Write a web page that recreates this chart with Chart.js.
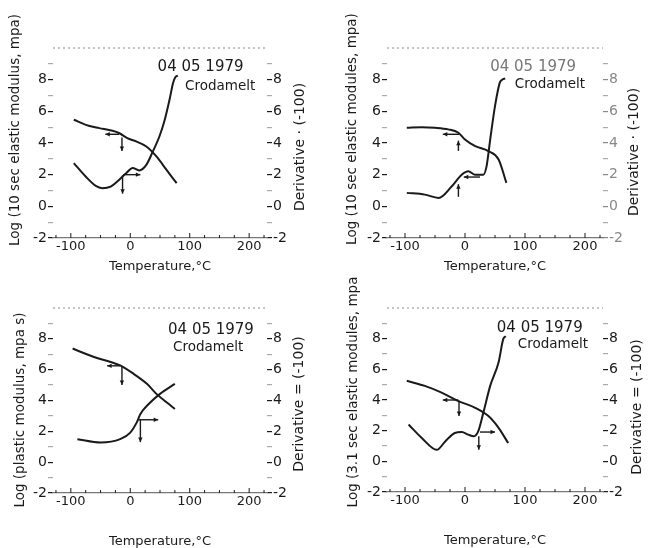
<!DOCTYPE html>
<html>
<head>
<meta charset="utf-8">
<script src="https://cdn.jsdelivr.net/npm/chart.js@4.4.1/dist/chart.umd.min.js"></script>
<style>
  body { margin: 0; background: #fff; width: 655px; height: 548px; position: relative; overflow: hidden; }
  canvas { position: absolute; }
</style>
</head>
<body>
<canvas id="c1" width="327" height="280" style="left:0;top:0"></canvas>
<canvas id="c2" width="328" height="280" style="left:327px;top:0"></canvas>
<canvas id="c3" width="327" height="276" style="left:0;top:272px"></canvas>
<canvas id="c4" width="328" height="276" style="left:327px;top:272px"></canvas>
<script>
// axis ticks
const tempTicks = [-100, 0, 100, 200];
const logTicks = [-2, 0, 2, 4, 6, 8];
const logMinor = [-1, 1, 3, 5, 7, 9];

// panel 1 - 10 sec elastic modulus
const p1ModT = [-95, -70, -52, -30, -19, -5, 10, 27, 44, 61, 78];
const p1ModV = [5.47, 5.09, 4.94, 4.77, 4.63, 4.31, 4.1, 3.78, 3.15, 2.3, 1.46];
const p1DerT = [-95, -75, -58, -47, -33, -19, -7, 4, 15, 27, 38, 49, 58, 66, 72, 76, 80];
const p1DerV = [2.73, 1.88, 1.29, 1.15, 1.25, 1.67, 2.09, 2.42, 2.27, 2.62, 3.47, 4.41, 5.47, 6.73, 7.79, 8.17, 8.25];

// panel 2 - 10 sec elastic modules
const p2ModT = [-97, -72, -50, -28, -11, 0, 17, 39, 56, 69];
const p2ModV = [4.96, 5.0, 4.96, 4.86, 4.65, 4.22, 3.8, 3.49, 2.96, 1.48];
const p2DerT = [-97, -67, -44, -22, -5.5, 5.5, 17, 30.5, 36, 42, 50, 58, 62, 67];
const p2DerV = [0.85, 0.74, 0.53, 1.27, 2.0, 2.22, 2.0, 2.0, 2.54, 4.22, 6.33, 7.81, 8.0, 8.08];

// panel 3 - plastic modulus
const p3ModT = [-97, -61, -33, -17, 5.6, 28, 44, 61, 75];
const p3ModV = [7.37, 6.82, 6.5, 6.28, 5.73, 5.08, 4.43, 3.88, 3.45];
const p3DerT = [-89, -50, -17, 0, 11, 17, 31, 50, 75];
const p3DerV = [1.49, 1.27, 1.49, 1.92, 2.58, 3.12, 3.77, 4.43, 5.08];

// panel 4 - 3.1 sec elastic modules
const p4ModT = [-97, -67, -39, -11, 17, 39, 56, 72];
const p4ModV = [5.25, 4.92, 4.48, 3.93, 3.49, 2.95, 2.18, 1.19];
const p4DerT = [-94, -72, -47, -33, -17, -5.5, 5.5, 14, 22, 30.5, 42, 56, 64, 68];
const p4DerV = [2.4, 1.52, 0.75, 1.3, 1.85, 1.91, 1.74, 1.63, 1.96, 3.16, 4.92, 6.46, 8.0, 8.15];

const FONT = '"DejaVu Sans", sans-serif';
const INK = '#1a1a1a';

function pts(t, v) {
    return t.map((x, i) => ({ x: x, y: v[i] }));
}

function arrow(ctx, x1, y1, x2, y2) {
    const ang = Math.atan2(y2 - y1, x2 - x1);
    ctx.beginPath();
    ctx.moveTo(x1, y1);
    ctx.lineTo(x2, y2);
    ctx.stroke();
    ctx.beginPath();
    ctx.moveTo(x2, y2);
    ctx.lineTo(x2 - 5 * Math.cos(ang - 0.45), y2 - 5 * Math.sin(ang - 0.45));
    ctx.lineTo(x2 - 5 * Math.cos(ang + 0.45), y2 - 5 * Math.sin(ang + 0.45));
    ctx.closePath();
    ctx.fill();
}

function rotText(ctx, text, x, y, size) {
    ctx.save();
    ctx.translate(x, y);
    ctx.rotate(-Math.PI / 2);
    ctx.font = size + 'px ' + FONT;
    ctx.textAlign = 'center';
    ctx.textBaseline = 'middle';
    ctx.fillText(text, 0, 0);
    ctx.restore();
}

// frame, inward x ticks, arrows and labels
const annot = {
    id: 'annot',
    afterDatasetsDraw(chart, args, o) {
        const { ctx, chartArea: a } = chart;
        const x = chart.scales.x, y = chart.scales.y;
        ctx.save();
        ctx.strokeStyle = '#8a8a8a';
        ctx.lineWidth = 1;
        ctx.setLineDash([2, 3]);
        ctx.beginPath();
        ctx.moveTo(a.left, a.top);
        ctx.lineTo(a.right, a.top);
        ctx.stroke();
        ctx.setLineDash([]);

        ctx.strokeStyle = INK;
        for (let t = -125; t <= 225; t += 25) {
            const px = x.getPixelForValue(t);
            const len = tempTicks.includes(t) ? 5 : 3;
            ctx.beginPath();
            ctx.moveTo(px, a.bottom);
            ctx.lineTo(px, a.bottom - len);
            ctx.stroke();
        }

        ctx.lineWidth = 1.4;
        ctx.fillStyle = INK;
        o.arrows.forEach(r => {
            arrow(ctx, x.getPixelForValue(r.hx1), y.getPixelForValue(r.hy),
                x.getPixelForValue(r.hx2), y.getPixelForValue(r.hy));
            arrow(ctx, x.getPixelForValue(r.vx), y.getPixelForValue(r.vy1),
                x.getPixelForValue(r.vx), y.getPixelForValue(r.vy2));
        });

        ctx.textBaseline = 'middle';
        ctx.textAlign = 'left';
        ctx.font = '15px ' + FONT;
        ctx.fillStyle = o.dateColor || INK;
        ctx.fillText('04 05 1979', x.getPixelForValue(o.date[0]), y.getPixelForValue(o.date[1]));
        ctx.font = '13.5px ' + FONT;
        ctx.fillStyle = INK;
        ctx.fillText('Crodamelt', x.getPixelForValue(o.name[0]), y.getPixelForValue(o.name[1]));

        rotText(ctx, o.yTitle, a.left + o.yPos[0], a.top + o.yPos[1], 13.5);
        rotText(ctx, o.y2Title, a.right + o.y2Pos[0], a.top + o.y2Pos[1], 14);

        ctx.font = '13px ' + FONT;
        ctx.textAlign = 'center';
        ctx.fillText('Temperature,°C', (a.left + a.right) / 2, a.bottom + o.xTitleDy);
        ctx.restore();
    }
};

function logAxis(pos, w, color) {
    return {
        type: 'linear',
        position: pos,
        min: -2,
        max: 10,
        afterFit: s => { s.width = w; },
        afterBuildTicks: s => {
            s.ticks = logTicks.concat(logMinor).sort((p, q) => p - q).map(v => ({ value: v }));
        },
        border: { display: false },
        grid: {
            drawOnChartArea: false,
            tickLength: 5,
            lineWidth: 1.2,
            tickColor: c => (c.tick && logMinor.includes(c.tick.value)) ? '#aaa' : color
        },
        ticks: {
            autoSkip: false,
            padding: 1,
            color: color,
            font: { family: FONT, size: 14 },
            callback: v => logTicks.includes(v) ? String(v) : ''
        }
    };
}

function makePanel(id, cfg) {
    const lineStyle = {
        showLine: true,
        borderColor: INK,
        borderWidth: 2,
        pointRadius: 0,
        fill: false,
        cubicInterpolationMode: 'monotone'
    };
    new Chart(document.getElementById(id), {
        type: 'scatter',
        data: {
            datasets: [
                { ...lineStyle, label: 'Modulus', data: pts(cfg.mod[0], cfg.mod[1]), yAxisID: 'y' },
                { ...lineStyle, label: 'Derivative', data: pts(cfg.der[0], cfg.der[1]), yAxisID: 'y2' }
            ]
        },
        options: {
            responsive: false,
            animation: false,
            layout: { padding: { top: cfg.top, left: 0, right: 0, bottom: 0 } },
            plugins: {
                legend: { display: false },
                tooltip: { enabled: false },
                annot: cfg.annot
            },
            scales: {
                x: {
                    type: 'linear',
                    min: -130,
                    max: 230,
                    afterFit: s => { s.height = cfg.bottomH; },
                    afterBuildTicks: s => { s.ticks = tempTicks.map(v => ({ value: v })); },
                    grid: { display: false, drawTicks: false },
                    border: { display: true, dash: [2, 3], color: '#777', width: 1.2 },
                    ticks: {
                        autoSkip: false,
                        maxRotation: 0,
                        padding: 1,
                        color: INK,
                        font: { family: FONT, size: 13 }
                    }
                },
                y: logAxis('left', cfg.leftW, INK),
                y2: logAxis('right', cfg.rightW, cfg.rightColor || INK)
            }
        },
        plugins: [annot]
    });
}

makePanel('c1', {
    mod: [p1ModT, p1ModV], der: [p1DerT, p1DerV],
    top: 48, leftW: 53, rightW: 60, bottomH: 42,
    annot: {
        yTitle: 'Log (10 sec elastic modulus, mpa)', yPos: [-38, 82],
        y2Title: 'Derivative · (-100)', y2Pos: [33, 99],
        xTitleDy: 29,
        date: [46, 8.8], name: [92, 7.54],
        arrows: [
            { hy: 4.55, hx1: -19, hx2: -42, vx: -14, vy1: 4.35, vy2: 3.5 },
            { hy: 2.0, hx1: -12, hx2: 17, vx: -13, vy1: 1.95, vy2: 0.8 }
        ]
    }
});

makePanel('c2', {
    mod: [p2ModT, p2ModV], der: [p2DerT, p2DerV],
    top: 48, leftW: 60, rightW: 52, bottomH: 42, rightColor: '#888',
    annot: {
        yTitle: 'Log (10 sec elastic modules, mpa)', yPos: [-35, 81],
        y2Title: 'Derivative · (-100)', y2Pos: [31, 104],
        xTitleDy: 29, dateColor: '#777',
        date: [42, 8.8], name: [83, 7.67],
        arrows: [
            { hy: 4.55, hx1: -10, hx2: -37, vx: -11, vy1: 3.5, vy2: 4.15 },
            { hy: 1.85, hx1: 25, hx2: -2, vx: -11, vy1: 0.6, vy2: 1.4 }
        ]
    }
});

makePanel('c3', {
    mod: [p3ModT, p3ModV], der: [p3DerT, p3DerV],
    top: 36, leftW: 53, rightW: 60, bottomH: 55,
    annot: {
        yTitle: 'Log (plastic modulus, mpa s)', yPos: [-33, 102],
        y2Title: 'Derivative = (-100)', y2Pos: [32, 96],
        xTitleDy: 49,
        date: [63.5, 8.57], name: [72, 7.47],
        arrows: [
            { hy: 6.25, hx1: -17, hx2: -39, vx: -14, vy1: 6.2, vy2: 5.0 },
            { hy: 2.75, hx1: 14, hx2: 47, vx: 17, vy1: 2.75, vy2: 1.3 }
        ]
    }
});

makePanel('c4', {
    mod: [p4ModT, p4ModV], der: [p4DerT, p4DerV],
    top: 36, leftW: 60, rightW: 52, bottomH: 56,
    annot: {
        yTitle: 'Log (3.1 sec elastic modules, mpa', yPos: [-34, 84],
        y2Title: 'Derivative = (-100)', y2Pos: [34, 99],
        xTitleDy: 49,
        date: [53, 8.7], name: [88, 7.6],
        arrows: [
            { hy: 4.0, hx1: -11, hx2: -37, vx: -10, vy1: 3.95, vy2: 2.95 },
            { hy: 1.91, hx1: 25, hx2: 50, vx: 23, vy1: 1.63, vy2: 0.75 }
        ]
    }
});
</script>
</body>
</html>
